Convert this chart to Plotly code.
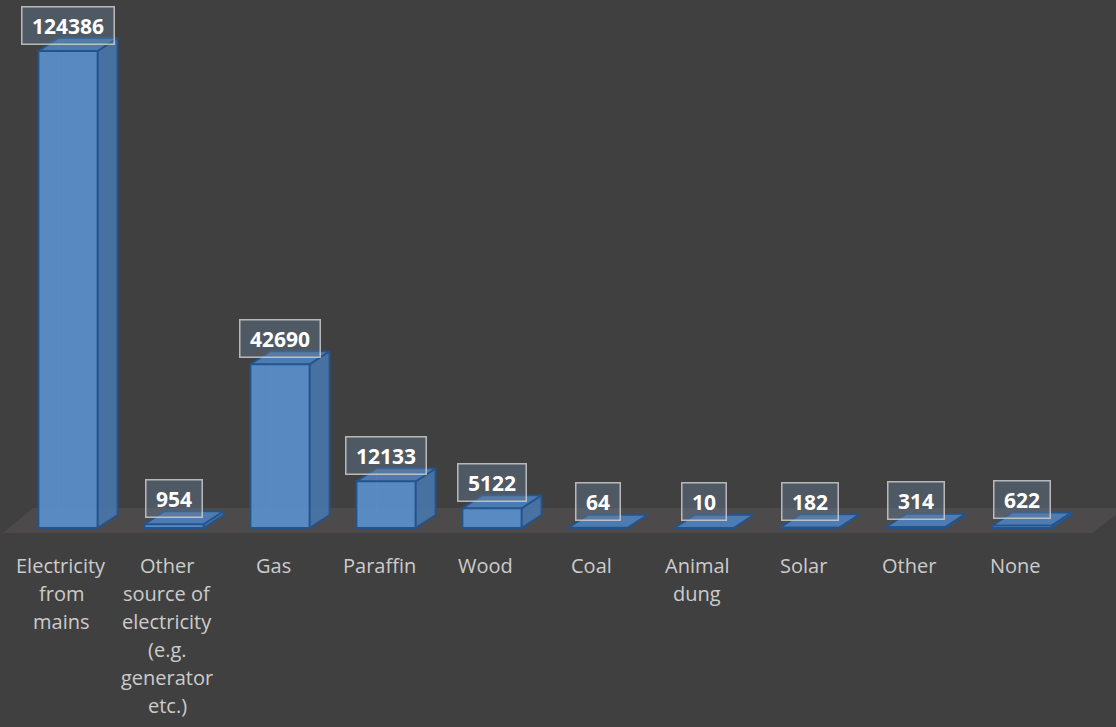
import plotly.graph_objects as go

# Main source of energy used for cooking (number of households)
categories = [
    "Electricity<br>from<br>mains",
    "Other<br>source of<br>electricity<br>(e.g.<br>generator<br>etc.)",
    "Gas",
    "Paraffin",
    "Wood",
    "Coal",
    "Animal<br>dung",
    "Solar",
    "Other",
    "None",
]
households = [124386, 954, 42690, 12133, 5122, 64, 10, 182, 314, 622]

# ---- canvas / pseudo-3D geometry (pixels) ----
W, H = 1116, 727
BASE_PX = 528      # row of the front-bottom edge of the bars
TOP_PX = 51        # row reached by the tallest front face
X0_PX, STEP_PX = 68.0, 106.0   # first category centre and category spacing
FACE_W_PX = 59     # front face width
DEPTH_X_PX, DEPTH_Y_PX = 20, 13  # oblique depth offset of the bars

vmax = max(households)
per_px = vmax / (BASE_PX - TOP_PX)          # value units per pixel
y_range = [-(H - BASE_PX) * per_px, BASE_PX * per_px]
x_range = [-X0_PX / STEP_PX, (W - X0_PX) / STEP_PX]

half = FACE_W_PX / 2 / STEP_PX
dx = DEPTH_X_PX / STEP_PX
dy = DEPTH_Y_PX * per_px


def px_x(p):
    return (p - X0_PX) / STEP_PX


def px_y(p):
    return (BASE_PX - p) * per_px


BG = "#404040"
FLOOR = "#4c4a4a"
EDGE = "rgba(36,84,140,1)"
FRONT = "rgba(90,141,198,0.96)"
SIDE = "rgba(72,116,164,0.96)"
TOP = "rgba(78,126,182,0.96)"

fig = go.Figure()

# floor plane
fl_x = [px_x(3), px_x(33), px_x(1125), px_x(1092), px_x(3)]
fl_y = [px_y(533), px_y(508), px_y(508), px_y(533), px_y(533)]
fig.add_trace(go.Scatter(x=fl_x, y=fl_y, mode="lines", fill="toself",
                         fillcolor=FLOOR, line=dict(width=0),
                         hoverinfo="skip", showlegend=False))


def polys(face):
    xs, ys = [], []
    for i, v in enumerate(households):
        px, py = face(i, v)
        xs += px + [px[0], None]
        ys += py + [py[0], None]
    return xs, ys


def side_face(i, v):
    return ([i + half, i + half + dx, i + half + dx, i + half],
            [0, dy, v + dy, v])


def top_face(i, v):
    return ([i - half, i + half, i + half + dx, i - half + dx],
            [v, v, v + dy, v + dy])


def front_face(i, v):
    return ([i - half, i + half, i + half, i - half],
            [0, 0, v, v])


# hidden back edges, seen through the translucent boxes
hx, hy = [], []
for i, v in enumerate(households):
    hx += [i - half + dx, i - half + dx, None, i - half, i - half + dx, i + half + dx, None]
    hy += [v + dy, dy, None, 0, dy, dy, None]
fig.add_trace(go.Scatter(x=hx, y=hy, mode="lines",
                         line=dict(color="rgba(110,160,220,0.55)", width=1),
                         hoverinfo="skip", showlegend=False))

for face, col in [(side_face, SIDE), (top_face, TOP), (front_face, FRONT)]:
    xs, ys = polys(face)
    fig.add_trace(go.Scatter(x=xs, y=ys, mode="lines", fill="toself",
                             fillcolor=col, line=dict(color=EDGE, width=1.8),
                             hoverinfo="skip", showlegend=False))

annotations = []

# value labels above each box
for i, v in enumerate(households):
    annotations.append(dict(
        x=i, y=v, xref="x", yref="y", yshift=26,
        text="&nbsp;<b>%d</b>&nbsp;" % v, showarrow=False,
        xanchor="center", yanchor="middle",
        font=dict(family="Open Sans", size=21, color="#ffffff"),
        bgcolor="rgba(100,125,150,0.42)",
        bordercolor="rgba(205,205,205,0.85)", borderwidth=1.5, borderpad=4,
    ))

# category labels, one annotation per line for Office-like line spacing
LABEL_TOP_PX, LINE_PX, LABEL_SHIFT_PX = 565, 28, -7
for i, name in enumerate(categories):
    for j, line in enumerate(name.split("<br>")):
        annotations.append(dict(
            x=i + LABEL_SHIFT_PX / STEP_PX, y=1 - (LABEL_TOP_PX + LINE_PX * j) / H,
            xref="x", yref="paper", text=line, showarrow=False,
            xanchor="center", yanchor="middle",
            font=dict(family="Open Sans", size=20, color="#cccccc"),
        ))

fig.update_layout(
    width=W, height=H,
    margin=dict(l=0, r=0, t=0, b=0),
    paper_bgcolor=BG, plot_bgcolor=BG,
    xaxis=dict(range=x_range, visible=False, fixedrange=True),
    yaxis=dict(range=y_range, visible=False, fixedrange=True),
    annotations=annotations,
    showlegend=False,
)

fig.write_html("out.html")
